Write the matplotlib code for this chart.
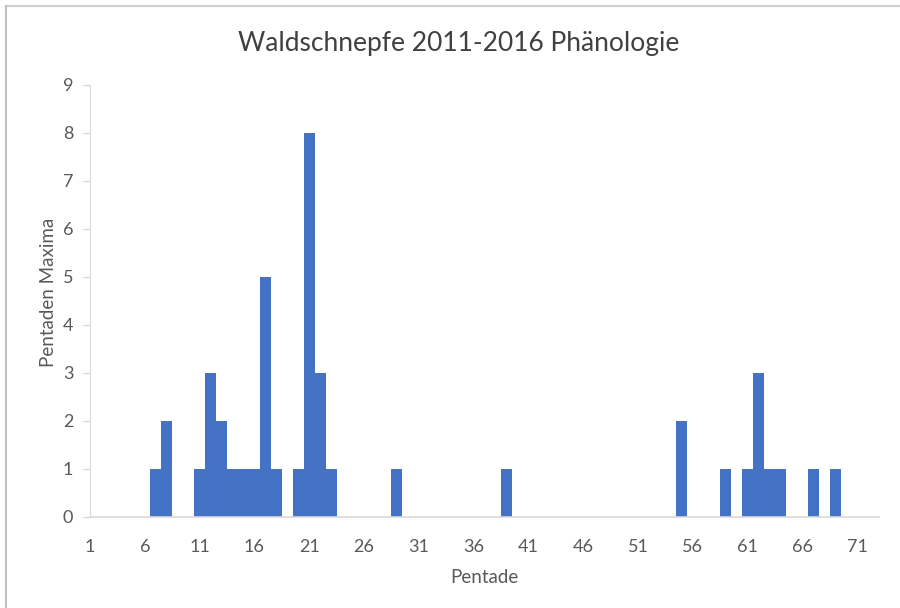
import matplotlib
matplotlib.use("Agg")
import matplotlib.pyplot as plt
from matplotlib.lines import Line2D

# Pentaden 1..73, Anzahl der Maxima (nur Werte > 0)
pentaden = list(range(1, 74))
maxima_pos = {7: 1, 8: 2, 11: 1, 12: 3, 13: 2, 14: 1, 15: 1, 16: 1, 17: 5, 18: 1,
              20: 1, 21: 8, 22: 3, 23: 1, 29: 1, 39: 1, 55: 2, 59: 1, 61: 1,
              62: 3, 63: 1, 64: 1, 67: 1, 69: 1}
werte = [maxima_pos.get(p, 0) for p in pentaden]
xticks = list(range(1, 72, 5))
yticks = list(range(0, 10))

plt.rcParams['font.family'] = ['Lato', 'DejaVu Sans']
grau = '#595959'

fig = plt.figure(figsize=(9, 6.08), dpi=100)
ax = fig.add_axes([0.1, 0.1497, 0.8767, 0.7105])

ax.bar(pentaden, werte, width=1.0, color='#4472C4', edgecolor='none')

ax.set_xlim(1, 73)
ax.set_ylim(0, 9)
ax.set_xticks(xticks)
ax.set_yticks(yticks)
ax.tick_params(axis='x', length=0, labelsize=13, colors=grau, pad=16)
ax.tick_params(axis='y', length=5, width=1, color='#d9d9d9', labelsize=13,
               labelcolor=grau, pad=7)

for s in ['top', 'right']:
    ax.spines[s].set_visible(False)
ax.spines['left'].set_color('#d9d9d9')
ax.spines['bottom'].set_color('#d9d9d9')
ax.spines['bottom'].set_linewidth(1.2)

fig.text(0.51, 0.928, 'Waldschnepfe 2011-2016 Phänologie', fontsize=19,
         color='#404040', ha='center', va='center')
ax.set_xlabel('Pentade', fontsize=13.5, color=grau, labelpad=10)
ax.set_ylabel('Pentaden Maxima', fontsize=13.5, color=grau, labelpad=4)
ax.yaxis.label.set_y(0.52)

# Rahmen des Diagrammbereichs
fig.add_artist(Line2D([0.007, 1.0], [0.99, 0.99], color='#d0d0d0', lw=1.5, transform=fig.transFigure))
fig.add_artist(Line2D([0.007, 0.007], [0.0, 0.99], color='#c0c0c0', lw=1.5, transform=fig.transFigure))

fig.savefig('out.png', dpi=100)
